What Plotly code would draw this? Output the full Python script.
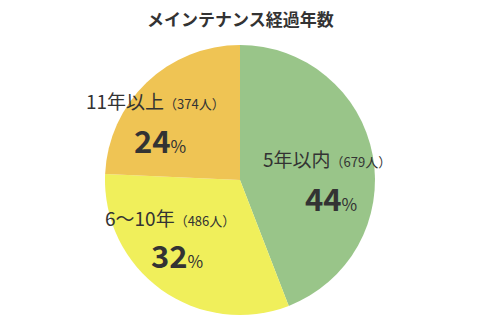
import plotly.graph_objects as go

title = "メインテナンス経過年数"
labels = ["5年以内", "6～10年", "11年以上"]
counts = [679, 486, 374]
percents = [44, 32, 24]
colors = ["#99c589", "#f0ef5b", "#efc454"]

FONT = "Noto Sans CJK JP, Noto Sans, sans-serif"
TXT = "#333333"

fig = go.Figure(go.Pie(
    values=counts,
    labels=labels,
    sort=False,
    direction="clockwise",
    rotation=0,
    marker=dict(colors=colors, line=dict(width=0)),
    textinfo="none",
    hoverinfo="label+percent",
    domain=dict(x=[105/480, 375/480], y=[5/320, 275/320]),
    showlegend=False,
))

# label anchor positions (paper coords) for each slice: (line1 center, line2 center)
pos = [((327, 158), (331, 197)),
       ((170, 217), (177, 254)),
       ((155, 100), (160, 139))]

annots = []
for lab, c, p, (l1, l2) in zip(labels, counts, percents, pos):
    annots.append(dict(
        x=l1[0]/480, y=1-l1[1]/320, xref="paper", yref="paper",
        xanchor="center", yanchor="middle", showarrow=False,
        text=f"{lab}<span style='font-size:13px'>（{c}人）</span>",
        font=dict(family=FONT, size=19, color=TXT),
    ))
    annots.append(dict(
        x=l2[0]/480, y=1-l2[1]/320, xref="paper", yref="paper",
        xanchor="center", yanchor="middle", showarrow=False,
        text=f"<b>{p}</b><span style='font-size:17px'>%</span>",
        font=dict(family=FONT, size=31, color=TXT),
    ))

annots.append(dict(
    x=0.5, y=1-19/320, xref="paper", yref="paper",
    xanchor="center", yanchor="middle", showarrow=False,
    text=f"<b>{title}</b>",
    font=dict(family=FONT, size=17, color=TXT),
))

fig.update_layout(
    width=480, height=320,
    margin=dict(l=0, r=0, t=0, b=0),
    paper_bgcolor="white",
    plot_bgcolor="white",
    annotations=annots,
)

fig.write_html("out.html")
